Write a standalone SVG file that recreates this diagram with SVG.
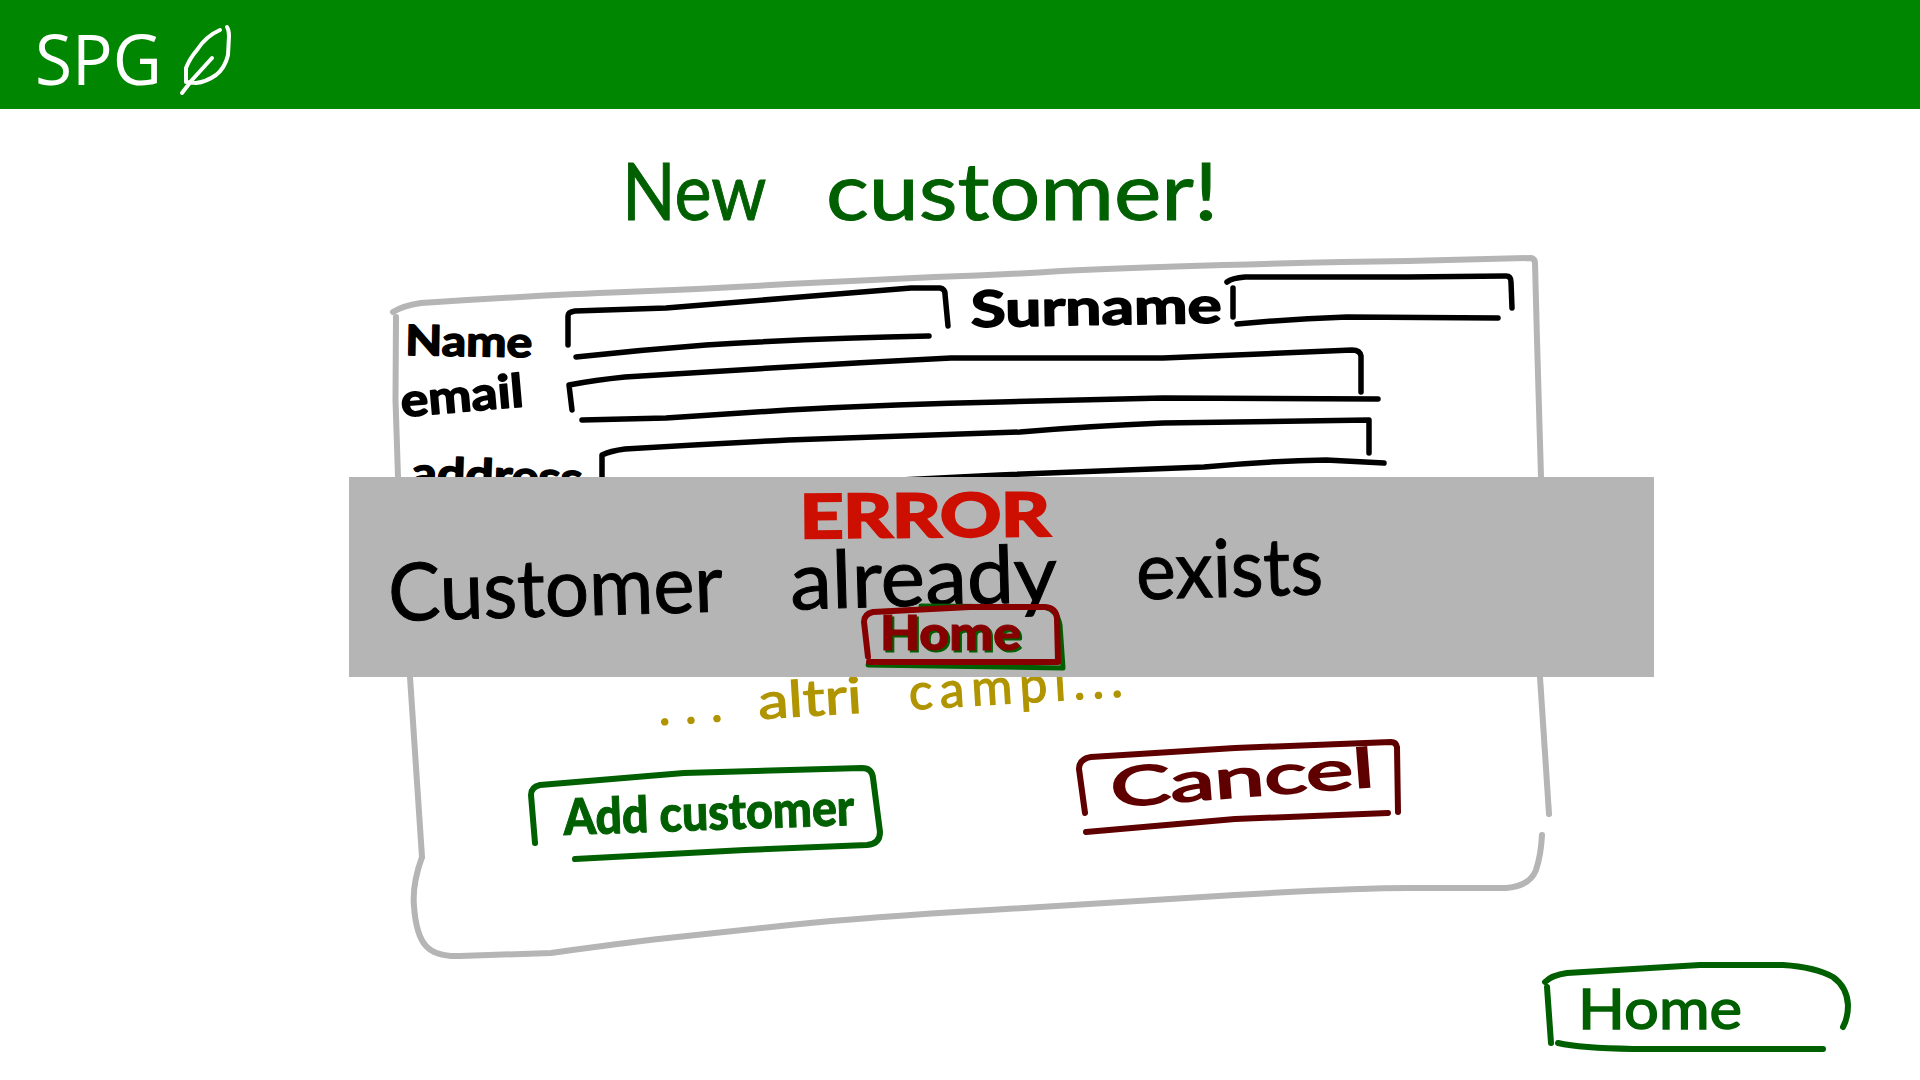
<svg xmlns="http://www.w3.org/2000/svg" width="1920" height="1080" viewBox="0 0 1920 1080">
<style>
.ln{fill:none;stroke-linecap:round;stroke-linejoin:round}
.panel{stroke:#b5b5b5;stroke-width:6}
.field{stroke:#000;stroke-width:5.500}
.green{stroke:#005f00;stroke-width:6}
.maroon{stroke:#5f0000;stroke-width:6}
.hand{font-family:Lato,"Open Sans",sans-serif}
.lab{fill:#000;stroke:#000;stroke-width:1.6;stroke-linejoin:round;font-weight:700}
</style>
<rect width="1920" height="1080" fill="#fff"/>
<g id="header">
<rect width="1920" height="109" fill="#008600"/>
<text x="35" y="85" font-family="'Open Sans',sans-serif" font-size="70" fill="#fff" textLength="127" lengthAdjust="spacingAndGlyphs">SPG</text>
<path class="ln" stroke="#fff" stroke-width="4" d="M227 27Q229 30 229 36L228 55Q225 68 216 75Q206 82 196 83L186 82L186 68Q190 58 197 50Q206 36 220 30M182 93L192 80L212 58"/>
</g>
<g id="title"><text class="hand" y="220" font-size="80" fill="#005f00" stroke="#005f00" stroke-width="1"><tspan x="622" textLength="143" lengthAdjust="spacingAndGlyphs">New</tspan> <tspan x="826" textLength="392" lengthAdjust="spacingAndGlyphs">customer!</tspan></text></g>
<g id="panel">
<path class="ln panel" d="M393 312Q402 306 421 303Q543 295 625 292Q706 289 788 284Q870 280 935 277Q1000 275 1061 271Q1122 268 1224 265Q1326 262 1408 261L1531 258Q1535 259 1535 263L1537 340L1541 477"/>
<path class="ln panel" d="M396 317L395.500 400L398 477M410 677L422 857"/>
<path class="ln panel" d="M1540 677L1549 814"/>
<path class="ln panel" d="M422 857Q412 885 414 906Q416 935 426 946Q436 957 460 956L551 953Q622 943 668 938Q714 933 790 925Q867 917 990 910Q1112 903 1235 895Q1357 888 1408 888L1506 888Q1530 886 1536 870Q1541 855 1542 835"/>
</g>
<g id="field-name">
<text class="hand lab" transform="rotate(1 405 355)" x="405" y="355" font-size="42" textLength="127" lengthAdjust="spacingAndGlyphs">Name</text>
<path class="ln field" d="M568 345L568 316Q568 312 575 311L666 308Q727 303 788 298Q850 293 911 288L940 288Q945 289 945 294L948 326M576 357Q640 350 706 345Q820 338 929 336"/>
</g>
<g id="field-surname">
<text class="hand lab" transform="rotate(-1 971 327)" x="971" y="327" font-size="50" textLength="251" lengthAdjust="spacingAndGlyphs">Surname</text>
<path class="ln field" d="M1233 317L1233 288M1227 282Q1232 278 1245 277L1408 277L1506 276Q1511 276 1511 282L1512 308M1237 324Q1290 319 1347 317L1498 318"/>
</g>
<g id="field-email">
<text class="hand lab" transform="rotate(-5 402 417)" x="402" y="417" font-size="46" textLength="123" lengthAdjust="spacingAndGlyphs">email</text>
<path class="ln field" d="M572 410L569 385Q595 380 625 377Q706 372 788 367Q870 362 951 358L1163 358L1352 350Q1360 350 1361 356L1361 392M582 420L666 418Q730 414 788 410Q900 404 1000 402L1163 398L1378 399"/>
</g>
<g id="field-address">
<text class="hand lab" transform="rotate(2 411 488)" x="411" y="488" font-size="44" textLength="171" lengthAdjust="spacingAndGlyphs">address</text>
<path class="ln field" d="M602 480L602 455Q610 451 625 449Q706 444 788 440Q900 436 1020 432Q1090 426 1163 423L1369 420L1369 453M900 480L1000 475L1204 467Q1270 461 1326 460L1384 463"/>
</g>
<g id="other-fields"><text class="hand" transform="rotate(-3.500 659 723)" y="725" font-size="50" fill="#b09400" stroke="#b09400" stroke-width="1.200"><tspan x="659" textLength="64" lengthAdjust="spacing">...</tspan> <tspan x="759" textLength="104" lengthAdjust="spacingAndGlyphs">altri</tspan> <tspan x="910" textLength="214" lengthAdjust="spacing">campi...</tspan></text></g>
<g id="add-customer">
<path class="ln green" d="M535 843L531 795Q531 787 540 785L684 773L862 768Q872 768 873 778L880 832Q880 844 867 845L745 850L575 859"/>
<text class="hand" transform="rotate(-2 564 835)" x="564" y="835" font-size="50" font-weight="900" fill="#005f00" stroke="#005f00" textLength="291" lengthAdjust="spacingAndGlyphs">Add customer</text>
</g>
<g id="cancel">
<path class="ln maroon" d="M1085 813L1079 769Q1079 759 1091 757L1235 748L1391 742Q1396 742 1397 747L1398 812M1086 832L1235 819L1388 813"/>
<text class="hand" transform="rotate(-4.500 1112 807)" x="1112" y="807" font-size="54" fill="#5f0000" stroke="#5f0000" stroke-width="2" textLength="264" lengthAdjust="spacingAndGlyphs">Cancel</text>
</g>
<g id="home">
<path class="ln green" d="M1545 982Q1552 975 1567 973L1700 965L1783 965Q1815 967 1833 977Q1847 987 1848 1005Q1848 1018 1843 1027M1547 987L1551 1043M1558 1043Q1580 1048 1633 1049L1823 1049"/>
<text class="hand" x="1578" y="1029" font-size="56" fill="#005f00" stroke="#005f00" stroke-width="1.500" textLength="164" lengthAdjust="spacingAndGlyphs">Home</text>
</g>
<g id="error-dialog">
<rect x="349" y="477" width="1305" height="200" fill="#b5b5b5"/>
<text class="hand" x="800" y="538" transform="rotate(-0.500 800 538)" font-size="60" font-weight="700" fill="#cc0f00" stroke="#cc0f00" stroke-width="2.500" textLength="250" lengthAdjust="spacingAndGlyphs">ERROR</text>
<text class="hand" transform="rotate(-1.660 391 621)" y="621" font-size="80" fill="#000" stroke="#000" stroke-width="1"><tspan x="389" textLength="333" lengthAdjust="spacingAndGlyphs">Customer</tspan> <tspan x="791" textLength="265" lengthAdjust="spacingAndGlyphs">already</tspan> <tspan x="1137" textLength="187" lengthAdjust="spacingAndGlyphs">exists</tspan></text>
<g id="error-home">
<path class="ln" stroke="#005f00" stroke-width="5" d="M921 606L1045 607Q1057 610 1060 625L1063 668L868 665"/>
<text class="hand" x="882" y="652" font-size="48" font-weight="900" fill="#005f00" stroke="#005f00" textLength="141" lengthAdjust="spacingAndGlyphs">Home</text>
<path class="ln" stroke="#860000" stroke-width="6" d="M868 657L864 622Q864 614 873 612L970 607L1045 607Q1056 608 1057 618L1058 662L869 662"/>
<text class="hand" x="880" y="650" font-size="48" font-weight="900" fill="#860000" stroke="#860000" textLength="141" lengthAdjust="spacingAndGlyphs">Home</text>
</g>
</g>
</svg>
